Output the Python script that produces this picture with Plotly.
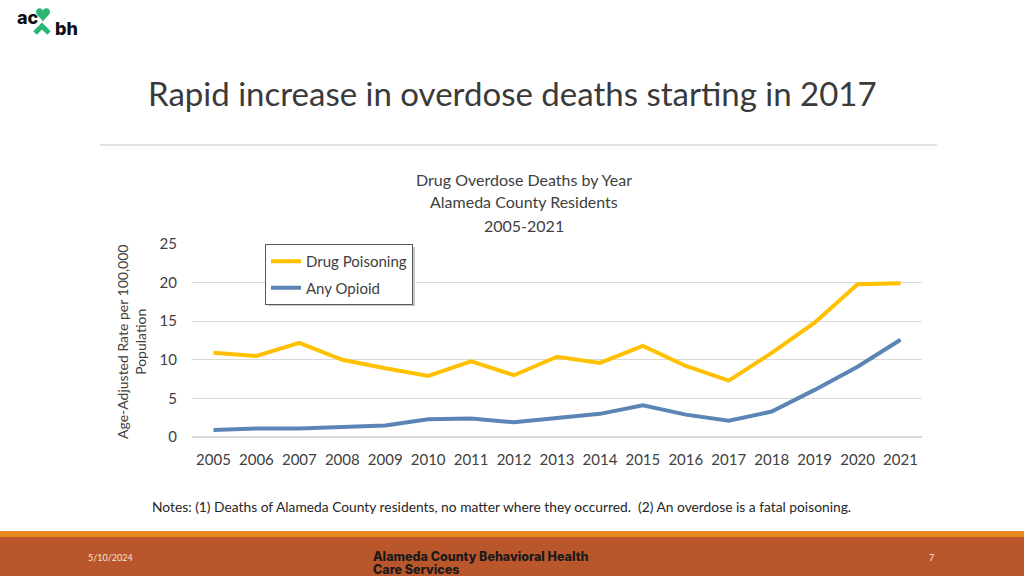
import plotly.graph_objects as go

years = [str(y) for y in range(2005, 2022)]
drug_poisoning = [10.9, 10.5, 12.2, 10.0, 8.9, 7.9, 9.8, 8.0, 10.4, 9.6, 11.8, 9.2, 7.3, 10.9, 14.8, 19.8, 19.9]
any_opioid = [0.9, 1.1, 1.1, 1.3, 1.5, 2.3, 2.4, 1.9, 2.4, 3.0, 4.1, 2.9, 2.1, 3.3, 6.1, 9.1, 12.6]
y_ticks = [0, 5, 10, 15, 20, 25]

W, H = 1024, 576
L, R, T, B = 192, 922, 244, 437

def px(x):
    return (x - L) / (R - L)

def py(y):
    return (B - y) / (B - T)

def pt(x, y):
    return f"{px(x)},{py(y)}"

FONT = "Lato"
fig = go.Figure()
fig.add_trace(go.Scatter(x=years, y=drug_poisoning, mode="lines", name="Drug Poisoning",
                         legendgroup="a", line=dict(color="#FFC000", width=4)))
fig.add_trace(go.Scatter(x=years, y=any_opioid, mode="lines", name="Any Opioid",
                         legendgroup="b", line=dict(color="#5B85B5", width=4)))

shapes = []
# legend shadow
shapes.append(dict(type="rect", xref="paper", yref="paper", x0=px(268), x1=px(415), y0=py(306), y1=py(247),
                   line=dict(width=0), fillcolor="rgba(0,0,0,0.22)", layer="below"))
# title separator
shapes.append(dict(type="line", xref="paper", yref="paper", x0=px(100), x1=px(937), y0=py(145), y1=py(145),
                   line=dict(color="#C8C8C8", width=1)))
# footer
shapes.append(dict(type="rect", xref="paper", yref="paper", x0=px(0), x1=px(W), y0=py(531), y1=py(537),
                   line=dict(width=0), fillcolor="#E8891F"))
shapes.append(dict(type="rect", xref="paper", yref="paper", x0=px(0), x1=px(W), y0=py(537), y1=py(H),
                   line=dict(width=0), fillcolor="#B9562B"))
# logo chevron
shapes.append(dict(type="path", xref="paper", yref="paper",
                   path=f"M {pt(35, 33)} L {pt(42, 26)} L {pt(49, 33)}",
                   line=dict(color="#2BB673", width=5)))
# logo heart
shapes.append(dict(type="path", xref="paper", yref="paper",
                   path=(f"M {pt(43, 11)} C {pt(43, 7.5)} {pt(36, 6.5)} {pt(36, 12)} "
                         f"C {pt(36, 15.5)} {pt(43, 19.5)} {pt(43, 22)} "
                         f"C {pt(43, 19.5)} {pt(50, 15.5)} {pt(50, 12)} "
                         f"C {pt(50, 6.5)} {pt(43, 7.5)} {pt(43, 11)} Z"),
                   line=dict(width=0), fillcolor="#2BB673"))

annotations = []
def txt(x, y, text, size, color="#404040", xanchor="center", family=FONT, weight=None, yanchor="middle", textangle=0):
    f = dict(family=family, size=size, color=color)
    if weight:
        f["weight"] = weight
    annotations.append(dict(xref="paper", yref="paper", x=px(x), y=py(y), text=text, showarrow=False,
                            font=f, xanchor=xanchor, yanchor=yanchor, textangle=textangle))

txt(512, 93, "Rapid increase in overdose deaths starting in 2017", 33, color="#3A3A3A")
txt(524, 179, "Drug Overdose Deaths by Year", 16, color="#404040")
txt(524, 202, "Alameda County Residents", 16, color="#404040")
txt(524, 225, "2005-2021", 16, color="#404040")
txt(131, 342, "Age-Adjusted Rate per 100,000<br>Population", 14, color="#404040", textangle=-90)
txt(150, 506, "Notes: (1) Deaths of Alameda County residents, no matter where they occurred.  (2) An overdose is a fatal poisoning.",
    13.8, color="#262626", xanchor="left")
txt(86, 557, "5/10/2024", 9, color="#F5E6DC", xanchor="left")
txt(371, 556, "Alameda County Behavioral Health", 12.5, color="#1A1A1A", xanchor="left",
    family="Inter", weight=800)
txt(371, 569, "Care Services", 12.5, color="#1A1A1A", xanchor="left",
    family="Inter", weight=800)
txt(931, 557, "7", 9, color="#F5E6DC")
# logo
txt(15, 18, "ac", 18, color="#111111", xanchor="left", family="Inter", weight=800)
txt(53, 28, "bh", 18, color="#111111", xanchor="left", family="Inter", weight=800)

fig.update_layout(
    width=W, height=H,
    margin=dict(l=L, r=W - R, t=T, b=H - B),
    paper_bgcolor="white", plot_bgcolor="white",
    showlegend=True,
    legend=dict(x=px(265), y=py(244), xanchor="left", yanchor="top",
                bgcolor="white", bordercolor="#595959", borderwidth=1,
                font=dict(family=FONT, size=15, color="#404040"),
                tracegroupgap=4, itemwidth=30),
    xaxis=dict(type="category", range=[-0.5, len(years) - 0.5], showgrid=False,
               showline=False, ticks="", ticklabelstandoff=12,
               tickfont=dict(family=FONT, size=15, color="#404040")),
    yaxis=dict(range=[0, 25], tickvals=y_ticks, showgrid=True, gridcolor="#D9D9D9", gridwidth=1,
               zeroline=True, zerolinecolor="#D9D9D9", showline=False, ticks="",
               ticklabelstandoff=14,
               tickfont=dict(family=FONT, size=15, color="#404040")),
    shapes=shapes, annotations=annotations,
)

fig.write_html("out.html", config={"displayModeBar": False},
               post_script="document.body.style.margin='0';document.body.style.overflow='hidden';")
